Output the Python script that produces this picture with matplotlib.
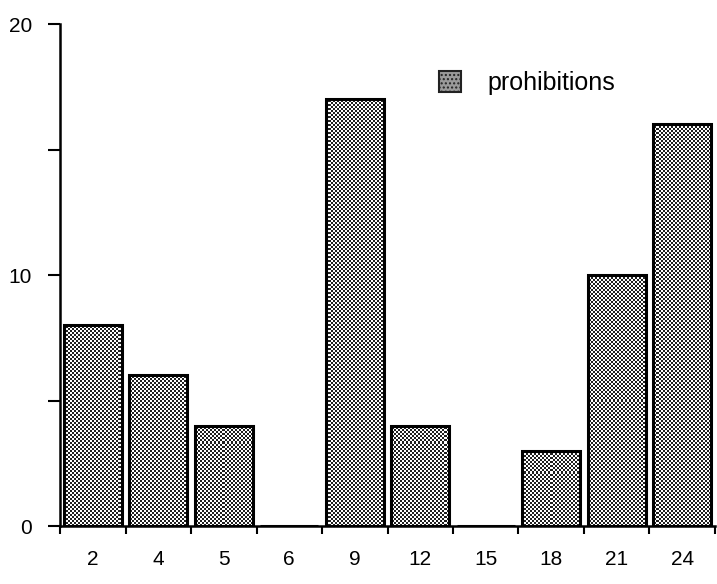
import numpy as np
import matplotlib.pyplot as plt
from matplotlib.patches import Patch

plt.rcParams['font.family'] = ['Liberation Sans', 'DejaVu Sans']

categories = ['2', '4', '5', '6', '9', '12', '15', '18', '21', '24']
prohibitions = [8, 6, 4, 0, 17, 4, 0, 3, 10, 16]

fig = plt.figure(figsize=(7.17, 5.84), dpi=100)
ax = fig.add_axes([0.0837, 0.0993, 0.9135, 0.8596])

x = np.arange(len(categories))
w = 0.88
ax.set_xlim(-0.5, len(categories) - 0.5)
ax.set_ylim(0, 20)

# fine black/white checker used as the stipple fill (2 px cells)
ax_w, ax_h = 0.9135 * 717, 0.8596 * 584
nx, ny = int(ax_w / 2), int(ax_h / 2)
checker = (np.indices((ny, nx)).sum(axis=0) % 2).astype(float)

bars = ax.bar(x, prohibitions, width=w, color='white', linewidth=0)
for b in bars:
    im = ax.imshow(checker, cmap='gray', vmin=-0.15, vmax=1.0,
                   extent=(-0.5, len(categories) - 0.5, 0, 20),
                   aspect='auto', interpolation='nearest', zorder=1.5)
    im.set_clip_path(b)
ax.bar(x, prohibitions, width=w, fill=False, edgecolor='black',
       linewidth=2.2, zorder=2)
ax.set_xlim(-0.5, len(categories) - 0.5)
ax.set_ylim(0, 20)

ax.set_xticks(x)
ax.set_xticklabels(categories)
ax.set_xticks(np.arange(len(categories) + 1) - 0.5, minor=True)
ax.tick_params(axis='x', which='major', length=0, pad=17, labelsize=15)
ax.tick_params(axis='x', which='minor', length=6, width=1.5, direction='out')

ax.set_yticks([0, 10, 20])
ax.set_yticks([5, 15], minor=True)
ax.tick_params(axis='y', which='both', length=9, width=1.5, direction='out',
               pad=11, labelsize=15)

for s in ['top', 'right']:
    ax.spines[s].set_visible(False)
for s in ['left', 'bottom']:
    ax.spines[s].set_linewidth(1.8)
    ax.spines[s].set_zorder(3)

handle = Patch(facecolor='#9a9a9a', edgecolor='#222222', hatch='....',
               linewidth=1.5)
ax.legend([handle], ['prohibitions'], loc='center left',
          bbox_to_anchor=(0.545, 0.882), frameon=False, fontsize=18,
          handlelength=0.85, handleheight=0.9, handletextpad=1.05)

fig.savefig('out.png', dpi=100)
